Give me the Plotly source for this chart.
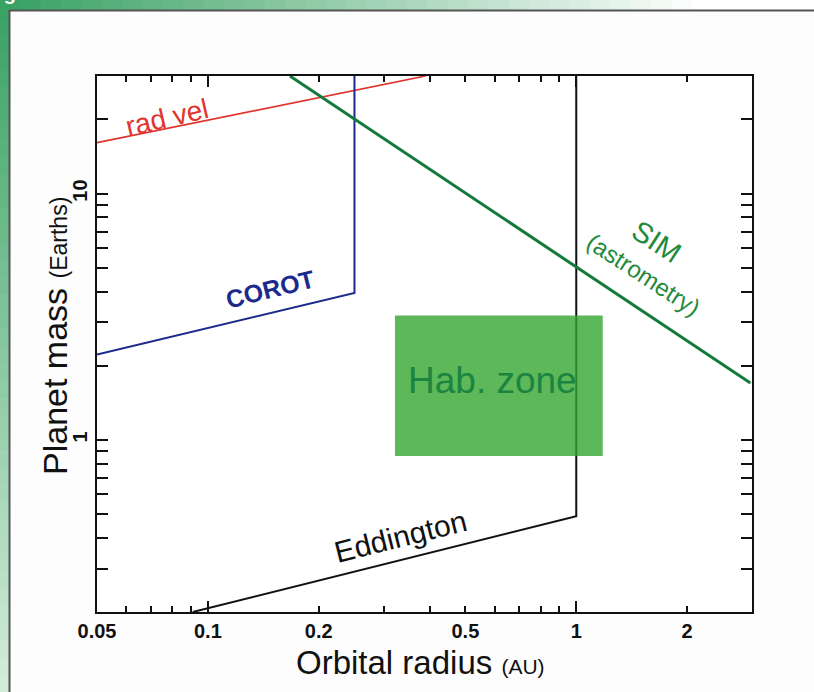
import math
import plotly.graph_objects as go

# ---------------- data ----------------
radvel_x = [0.05, 0.39]
radvel_y = [16.1, 30.0]

corot_x = [0.05, 0.25, 0.25]
corot_y = [2.22, 3.95, 30.0]

sim_x = [0.167, 1.0, 2.97]
sim_y = [30.0, 5.05, 1.70]

edd_x = [0.091, 1.0, 1.0]
edd_y = [0.2, 0.49, 30.0]

hab_x = [0.322, 1.18]
hab_y = [0.86, 3.2]

x_tickvals = [0.05, 0.1, 0.2, 0.5, 1, 2]
x_ticktext = ["0.05", "0.1", "0.2", "0.5", "1", "2"]
x_minor = [0.06, 0.07, 0.08, 0.09, 0.3, 0.4, 0.6, 0.7, 0.8, 0.9, 3]
x_long = [0.1, 1]

y_tickvals = [1, 10]
y_ticktext = ["1", "10"]
y_minor = [0.2, 0.3, 0.4, 0.5, 0.6, 0.7, 0.8, 0.9, 2, 3, 4, 5, 6, 7, 8, 9, 20, 30]

X_RANGE = [0.05, 3.0]
Y_RANGE = [0.2, 30.0]

# ---------------- layout geometry ----------------
W, H = 814, 692
L, R, T, B = 97, 62, 76, 80
PW, PH = W - L - R, H - T - B


def px_x(p):
    return (p - L) / PW


def px_y(p):
    return (H - B - p) / PH


FONT = "Liberation Sans, Arial, Helvetica, sans-serif"

fig = go.Figure()

fig.add_trace(go.Scatter(x=edd_x, y=edd_y, mode="lines",
                         line=dict(color="#111111", width=2), hoverinfo="skip", showlegend=False))
fig.add_trace(go.Scatter(x=radvel_x, y=radvel_y, mode="lines",
                         line=dict(color="#e0352f", width=1.7), hoverinfo="skip", showlegend=False))
fig.add_trace(go.Scatter(x=corot_x, y=corot_y, mode="lines",
                         line=dict(color="#1c2a8c", width=2), hoverinfo="skip", showlegend=False))
fig.add_trace(go.Scatter(x=sim_x, y=sim_y, mode="lines",
                         line=dict(color="#137a3c", width=3), hoverinfo="skip", showlegend=False))
# invisible trace to activate overlay x-axis
fig.add_trace(go.Scatter(x=[1], y=[1], xaxis="x2", mode="markers",
                         marker=dict(opacity=0), hoverinfo="skip", showlegend=False))

shapes = []

# habitable zone box (semi-transparent, over the Eddington line)
shapes.append(dict(type="rect", xref="x", yref="y",
                   x0=hab_x[0], x1=hab_x[1], y0=hab_y[0], y1=hab_y[1],
                   fillcolor="rgb(51,166,48)", opacity=0.8, line=dict(width=0), layer="above"))

# ---- decorative page frame: green gradient bars ----
n = 40
for i in range(n):
    t = i / n
    f = min(1.0, t / 0.85)
    r = int(58 + (255 - 58) * f)
    g = int(162 + (255 - 162) * f)
    b = int(100 + (255 - 100) * f)
    shapes.append(dict(type="rect", xref="paper", yref="paper",
                       x0=px_x(W * t), x1=px_x(W * (i + 1) / n + 1),
                       y0=px_y(10), y1=px_y(0),
                       fillcolor=f"rgb({r},{g},{b})", line=dict(width=0), layer="below"))
    r2 = int(58 + (215 - 58) * t)
    g2 = int(162 + (238 - 162) * t)
    b2 = int(100 + (222 - 100) * t)
    shapes.append(dict(type="rect", xref="paper", yref="paper",
                       x0=px_x(0), x1=px_x(9),
                       y0=px_y(H * (i + 1) / n + 1), y1=px_y(H * t),
                       fillcolor=f"rgb({r2},{g2},{b2})", line=dict(width=0), layer="below"))
shapes.append(dict(type="line", xref="paper", yref="paper",
                   x0=px_x(9), x1=px_x(W), y0=px_y(10.5), y1=px_y(10.5),
                   line=dict(color="#555555", width=2), layer="below"))
shapes.append(dict(type="line", xref="paper", yref="paper",
                   x0=px_x(9.5), x1=px_x(9.5), y0=px_y(10), y1=px_y(H),
                   line=dict(color="#555555", width=2), layer="below"))

lx = math.log10
C = dict(xanchor="center", yanchor="middle", showarrow=False)
annotations = [
    dict(text="rad vel", x=lx(0.0775), y=lx(20.3), xref="x", yref="y", **C,
         textangle=-13, font=dict(family=FONT, size=28, color="#e0352f")),
    dict(text="<b>COROT</b>", x=lx(0.1475), y=0.612, xref="x", yref="y", **C,
         textangle=-14, font=dict(family=FONT, size=25, color="#1c2a8c")),
    dict(text="Eddington", x=-0.478, y=-0.393, xref="x", yref="y", **C,
         textangle=-14, font=dict(family=FONT, size=30, color="#111111")),
    dict(text="SIM", x=0.22, y=0.805, xref="x", yref="y", **C,
         textangle=33, font=dict(family=FONT, size=29, color="#1f8a3c")),
    dict(text="(astrometry)", x=0.182, y=0.672, xref="x", yref="y", **C,
         textangle=33, font=dict(family=FONT, size=24, color="#1f8a3c")),
    dict(text="Hab. zone", x=-0.228, y=0.239, xref="x", yref="y", **C,
         font=dict(family=FONT, size=37, color="#1b8440")),
    # axis titles
    dict(text="Orbital radius <span style='font-size:21px'>(AU)</span>",
         x=px_x(420), y=px_y(662), xref="paper", yref="paper", **C,
         font=dict(family=FONT, size=33, color="#111111")),
    dict(text="Planet mass <span style='font-size:23px'>(Earths)</span>",
         x=px_x(55), y=px_y(336), xref="paper", yref="paper", **C,
         textangle=-90, font=dict(family=FONT, size=34, color="#111111")),
    # cropped figure label at top-left of page
    dict(text="<b>Fig</b>", x=px_x(18), y=px_y(-7), xref="paper", yref="paper", showarrow=False,
         xanchor="right", yanchor="middle", font=dict(family=FONT, size=20, color="#ffffff")),
]

axis_common = dict(type="log", showgrid=False, zeroline=False, showline=True,
                   linecolor="#111111", linewidth=2, ticks="inside", tickcolor="#111111",
                   tickwidth=1.5, mirror="allticks")

TICKFONT = dict(family=FONT, size=20, color="#111111", weight="bold")

fig.update_layout(
    width=W, height=H,
    margin=dict(l=L, r=R, t=T, b=B, pad=0),
    paper_bgcolor="#fdfdfd", plot_bgcolor="#ffffff",
    shapes=shapes, annotations=annotations, showlegend=False,
    xaxis=dict(**axis_common, range=[lx(X_RANGE[0]), lx(X_RANGE[1])],
               tickmode="array", tickvals=x_tickvals, ticktext=x_ticktext, ticklen=6,
               tickfont=TICKFONT,
               minor=dict(tickmode="array", tickvals=x_minor, ticks="inside", ticklen=6,
                          tickwidth=1.5, tickcolor="#111111")),
    xaxis2=dict(type="log", overlaying="x", anchor="y", side="bottom",
                range=[lx(X_RANGE[0]), lx(X_RANGE[1])], showgrid=False, zeroline=False,
                showline=False, tickmode="array", tickvals=x_long, ticks="inside",
                ticklen=11, tickwidth=1.5, tickcolor="#111111", mirror="allticks",
                showticklabels=False),
    yaxis=dict(**axis_common, range=[lx(Y_RANGE[0]), lx(Y_RANGE[1])],
               tickmode="array", tickvals=y_tickvals, ticktext=y_ticktext, ticklen=11,
               tickangle=-90, tickfont=TICKFONT,
               minor=dict(tickmode="array", tickvals=y_minor, ticks="inside", ticklen=6,
                          tickwidth=1.5, tickcolor="#111111")),
)

fig.write_html("out.html")
